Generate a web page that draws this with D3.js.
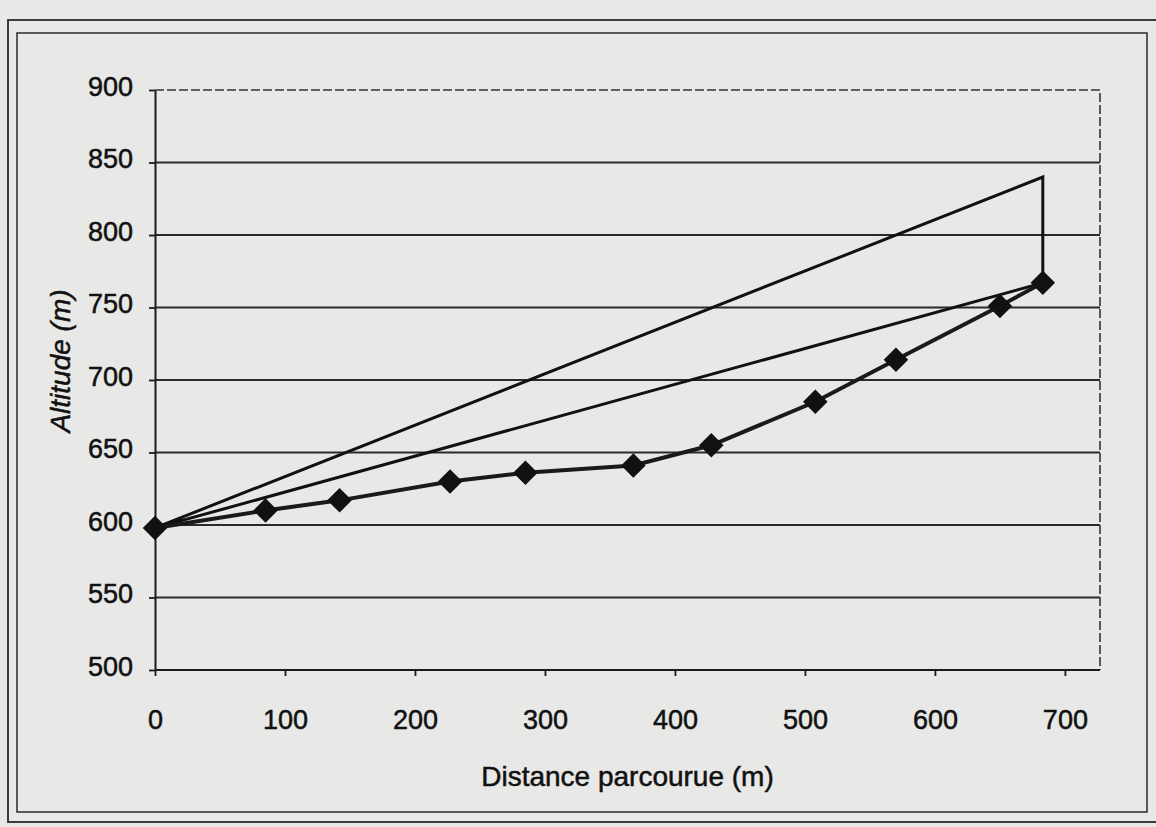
<!DOCTYPE html>
<head>
  <meta charset="utf-8">
  <script src="https://d3js.org/d3.v7.min.js"></script>
  <style>
    body { margin:0; background:#e8e8e6; }
    svg { display:block; }
    text { font-family: "Liberation Sans", Arial, sans-serif; fill:#111; stroke:#111; stroke-width:0.5px; }
  </style>
</head>
<body>
  <svg width="1156" height="827"></svg>
  <script>
    // measured altitude along the path
    var distance = [0, 85, 142, 227, 285, 368, 428, 508, 570, 650, 683];
    var altitude = [598, 610, 617, 630, 636, 641, 655, 685, 714, 751, 767];

    // construction lines: start -> top -> last point -> start
    var slopeDist = [0, 683, 683, 0];
    var slopeAlt = [598, 840, 767, 598];

    var xTicks = [0, 100, 200, 300, 400, 500, 600, 700];
    var yTicks = [500, 550, 600, 650, 700, 750, 800, 850, 900];

    var margin = {top: 90, right: 56, bottom: 157, left: 155};
    var width = 1156, height = 827;

    var svg = d3.select('svg');

    // double frame round the figure
    svg.append('rect')
      .attr('x', 8).attr('y', 20).attr('width', 1150).attr('height', 802)
      .attr('fill', 'none').attr('stroke', '#2a2a2a').attr('stroke-width', 1.8);
    svg.append('rect')
      .attr('x', 17).attr('y', 33).attr('width', 1130).attr('height', 779)
      .attr('fill', 'none').attr('stroke', '#2a2a2a').attr('stroke-width', 1.5);

    var xScale = d3.scaleLinear()
      .domain([0, 727])
      .range([margin.left, width - margin.right]);
    var yScale = d3.scaleLinear()
      .domain([500, 900])
      .range([height - margin.bottom, margin.top]);

    // gridlines
    svg.append('g')
      .selectAll('line')
      .data(yTicks.filter(d => d > 500 && d < 900))
      .enter().append('line')
      .attr('x1', xScale(0)).attr('x2', xScale(727))
      .attr('y1', d => yScale(d)).attr('y2', d => yScale(d))
      .attr('stroke', '#2a2a2a').attr('stroke-width', 1.8);

    // plot area border (top and right)
    svg.append('path')
      .attr('d', 'M' + xScale(0) + ',' + yScale(900) + 'H' + xScale(727) + 'V' + yScale(500))
      .attr('fill', 'none').attr('stroke', '#333').attr('stroke-width', 1.6)
      .attr('stroke-dasharray', '9 3');

    // axes
    var xAxis = d3.axisBottom(xScale).tickValues(xTicks).tickSize(6).tickPadding(34).tickSizeOuter(0);
    var yAxis = d3.axisLeft(yScale).tickValues(yTicks).tickSize(6).tickPadding(16).tickSizeOuter(0);

    var gx = svg.append('g')
      .attr('transform', 'translate(0,' + yScale(500) + ')')
      .call(xAxis);
    var gy = svg.append('g')
      .attr('transform', 'translate(' + xScale(0) + ',0)')
      .call(yAxis);

    [gx, gy].forEach(g => {
      g.select('.domain').attr('stroke', '#1a1a1a').attr('stroke-width', 2);
      g.selectAll('.tick line').attr('stroke', '#1a1a1a').attr('stroke-width', 1.8);
      g.selectAll('.tick text').style('font-size', '27px').attr('fill', '#111');
    });
    gx.select('.domain').attr('d', 'M' + xScale(0) + ',0H' + xScale(727));
    gy.selectAll('.tick text').attr('dy', '0.2em');

    // axis titles
    svg.append('text')
      .attr('x', (xScale(0) + xScale(727)) / 2)
      .attr('y', 786)
      .attr('text-anchor', 'middle')
      .style('font-size', '28px')
      .text('Distance parcourue (m)');

    svg.append('text')
      .attr('transform', 'translate(70,361) rotate(-90)')
      .attr('text-anchor', 'middle')
      .style('font-size', '28px')
      .style('font-style', 'italic')
      .text('Altitude (m)');

    // construction triangle
    var line = d3.line()
      .x((d, i) => xScale(d))
      .y((d, i) => yScale(slopeAlt[i]));
    svg.append('path')
      .datum(slopeDist)
      .attr('d', line)
      .attr('fill', 'none')
      .attr('stroke', '#111')
      .attr('stroke-width', 3)
      .attr('stroke-linejoin', 'miter');

    // altitude series
    var seriesLine = d3.line()
      .x((d, i) => xScale(d))
      .y((d, i) => yScale(altitude[i]));
    svg.append('path')
      .datum(distance)
      .attr('d', seriesLine)
      .attr('fill', 'none')
      .attr('stroke', '#1a1a1a')
      .attr('stroke-width', 4);

    svg.append('g')
      .selectAll('path')
      .data(distance)
      .enter().append('path')
      .attr('d', d3.symbol(d3.symbolSquare, 300))
      .attr('transform', (d, i) => 'translate(' + xScale(d) + ',' + yScale(altitude[i]) + ') rotate(45)')
      .attr('fill', '#111');
  </script>
</body>
